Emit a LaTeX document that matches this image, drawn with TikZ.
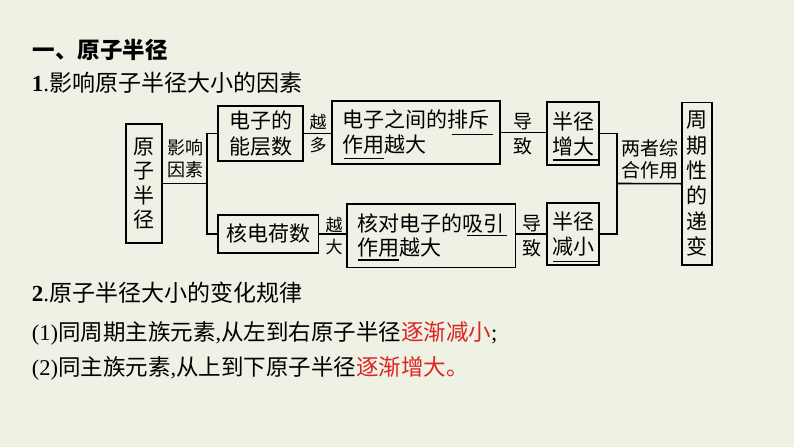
\documentclass[tikz,border=0pt]{standalone}
\usepackage{fontspec}
\setmainfont{Liberation Serif}
\newfontfamily\cjk{Noto Sans CJK SC}
\definecolor{bg}{RGB}{237,242,228}
\definecolor{hl}{RGB}{222,35,35}
\begin{document}
\begin{tikzpicture}[x=1pt,y=-1pt,line width=1.6pt,
  box/.style={draw, inner sep=0pt, align=center, font=\cjk\fontsize{21}{25}\selectfont},
  lbl/.style={inner sep=0pt, align=center},
  ul/.style={line width=1.5pt},
  wire/.style={line width=1.6pt},
  txt/.style={anchor=west, inner sep=0pt}]
\fill[bg] (0,0) rectangle (794,447);
\useasboundingbox (0,0) rectangle (794,447);

% headings
\node[txt, font=\cjk\bfseries\fontsize{22.5}{27}\selectfont] (t0) at (32,50) {一、原子半径};
\node[txt, font=\fontsize{23}{28}\selectfont] (t1) at (31,83) {\textbf{1}.{\cjk 影响原子半径大小的因素}};
\node[txt, font=\fontsize{23}{28}\selectfont] (t2) at (31,293) {\textbf{2}.{\cjk 原子半径大小的变化规律}};
\node[txt, font=\fontsize{22.5}{27}\selectfont] (t3) at (31,333) {(1){\cjk 同周期主族元素},{\cjk 从左到右原子半径}\textcolor{hl}{\cjk 逐渐减小};};
\node[txt, font=\fontsize{22.5}{27}\selectfont] (t4) at (31,368) {(2){\cjk 同主族元素},{\cjk 从上到下原子半径}\textcolor{hl}{\cjk 逐渐增大。}};

% boxes
\node[box, minimum width=36pt, minimum height=119pt, font=\cjk\fontsize{21}{24.5}\selectfont] (yz) at (144,183.5) {原\\子\\半\\径};
\node[box, minimum width=85pt, minimum height=55pt, font=\cjk\fontsize{21}{25.7}\selectfont] (A) at (260.5,133.5) {电子的\\能层数};
\node[box, align=left, minimum width=168pt, minimum height=63pt] (B) at (416,132.5) {电子之间的排斥\\作用越大};
\node[box, minimum width=52pt, minimum height=63pt] (C) at (573,133.5) {半径\\增大};
\node[box, minimum width=100.6pt, minimum height=38.3pt] (D) at (268,234) {核电荷数};
\node[box, align=left, minimum width=168.7pt, minimum height=63.3pt, font=\cjk\fontsize{21}{24.4}\selectfont] (E) at (431.3,235.7) {核对电子的吸引\\作用越大};
\node[box, minimum width=52pt, minimum height=62pt] (F) at (573,234) {半径\\减小};
\node[box, minimum width=30pt, minimum height=162.7pt, font=\cjk\fontsize{21}{25.3}\selectfont] (G) at (696.7,183.7) {周\\期\\性\\的\\递\\变};

% labels
\node[lbl, font=\cjk\fontsize{18}{22}\selectfont] (L1) at (185,159) {影响\\因素};
\node[lbl, font=\cjk\fontsize{17}{23}\selectfont] (L2) at (318,133.5) {越\\多};
\node[lbl, font=\cjk\fontsize{17}{22}\selectfont] (L3) at (334,236) {越\\大};
\node[lbl, font=\cjk\fontsize{19}{25}\selectfont] (L4) at (523,134.5) {导\\致};
\node[lbl, font=\cjk\fontsize{19}{25}\selectfont] (L5) at (532,236) {导\\致};
\node[lbl, font=\cjk\fontsize{19}{22}\selectfont] (L6) at (650,159) {两者综\\合作用};

% connectors
\coordinate (j1) at (206.7,183.5);
\coordinate (j2) at (616.7,183.5);
\draw[wire] (yz.east) -- (j1);
\draw[wire] (A.west) -| (j1) |- (D.west);
\draw[wire] (A.east) -- (A.east -| B.west);
\draw[wire] (B.east) -- (B.east -| C.west);
\draw[wire] (D.east) -- (D.east -| E.west);
\draw[wire] (E.east |- F.west) -- (F.west);
\draw[wire] (C.east) -| (j2) |- (F.east);
\draw[wire] (j2) -- (G.west);

% underlines
\draw[ul] (451.7,134.3) -- (492.7,134.3);
\draw[ul] (344,158.3) -- (384,158.3);
\draw[ul] (553,160) -- (598,160);
\draw[ul] (466.7,235.7) -- (506.7,235.7);
\draw[ul] (358,260) -- (399,260);
\draw[ul] (553,261.7) -- (598,261.7);
\end{tikzpicture}
\end{document}
